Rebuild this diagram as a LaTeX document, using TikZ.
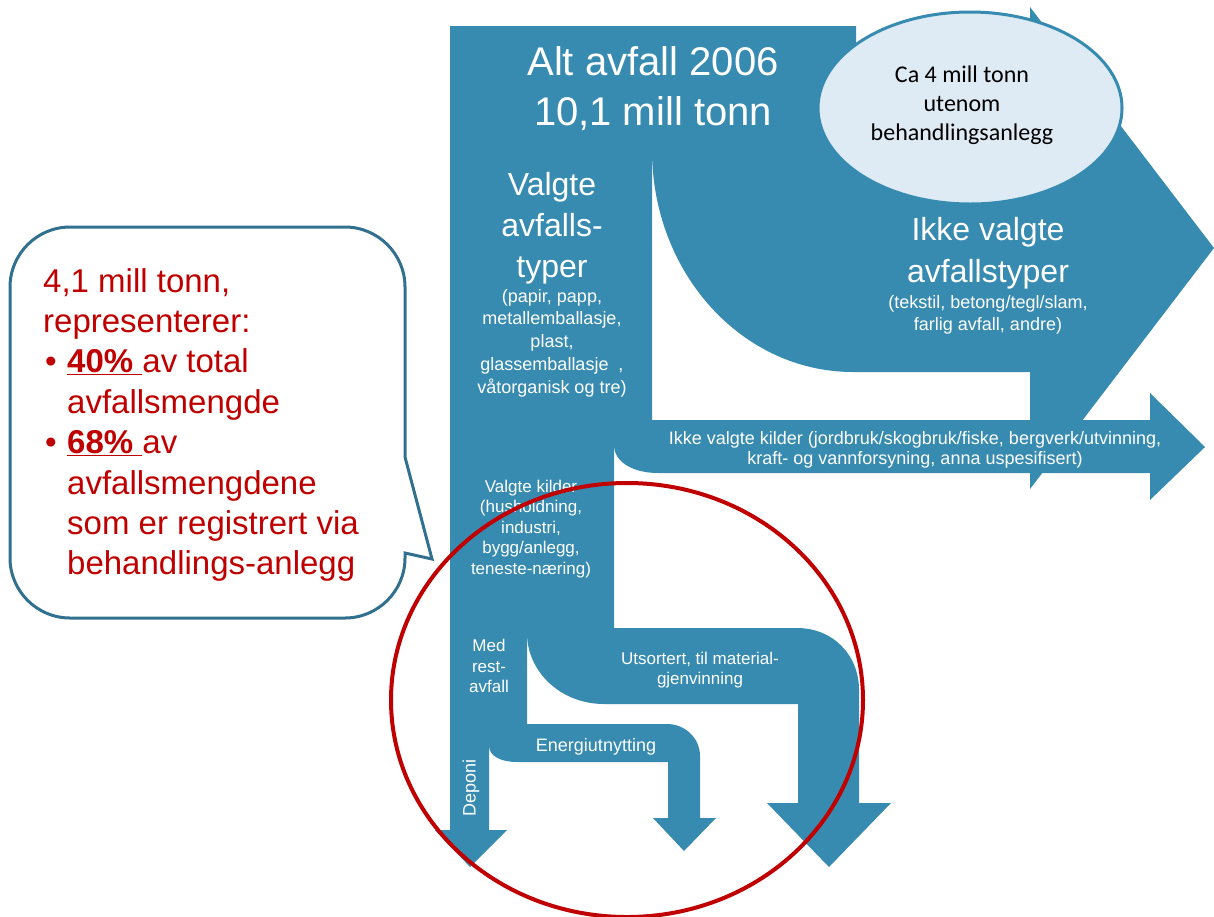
\documentclass[tikz,border=0pt]{standalone}
\usepackage{fontspec}
\setmainfont{Liberation Sans}
\newfontfamily\calibrifont{Carlito}
\usepackage{tikz}
\usetikzlibrary{positioning,shapes.geometric}
\definecolor{flowblue}{HTML}{378BB0}
\definecolor{ovalfill}{HTML}{DEEAF4}
\definecolor{bubbleline}{HTML}{31708E}
\definecolor{alertred}{HTML}{C00000}
\newcommand{\fsz}[2]{\fontsize{#1}{#2}\selectfont}

\begin{document}
\begin{tikzpicture}[x=1pt,y=-1pt,
  flow/.style={fill=flowblue},
  lbl/.style={text=white,align=center,inner sep=0pt},
  redtxt/.style={text=alertred,align=left,inner sep=0pt}]
  \useasboundingbox (0,0) rectangle (1214,916);

  \fill[flow] (652,100) -- (1030,100) -- (1030,7) -- (1214,248) -- (1030,489) -- (1030,372)
    -- (853,372) .. controls (742,372) and (652,273) .. (652,150) -- cycle;
  \fill[flow] (614,420) -- (1150,420) -- (1150,393) -- (1205,447) -- (1150,500) -- (1150,473)
    -- (658,473) .. controls (633,473) and (614,462) .. (614,445) -- cycle;
  \fill[flow] (450,26) -- (856,26) -- (856,145) -- (652,145) -- (652,420) -- (614,420)
    -- (614,628) -- (527,628) -- (527,724) -- (489,724) -- (489,830) -- (507,830)
    -- (470,867) -- (435,830) -- (450,830) -- cycle;
  \fill[flow] (527,628) -- (797,628) .. controls (833,628) and (859,655) .. (859,690)
    -- (859,803) -- (891,803) -- (829,867) -- (767,803) -- (798,803) -- (798,704)
    -- (604,704) .. controls (561,704) and (527,672) .. (527,633) -- cycle;
  \fill[flow] (489,724) -- (667,724) .. controls (685,724) and (700,738) .. (700,756)
    -- (700,818) -- (716,818) -- (684,851) -- (653,818) -- (668,818) -- (668,762)
    -- (517,762) .. controls (501,762) and (489,756) .. (489,746) -- cycle;

  \node[ellipse,draw=flowblue,line width=3pt,fill=ovalfill,
        minimum width=304pt,minimum height=192pt] (oval) at (970,108) {};
  \node[inner sep=0pt,align=center,font=\calibrifont\fsz{24}{29}] (utenom) at (962,105)
       {Ca 4 mill tonn\\utenom\\behandlingsanlegg};

  \node[lbl,font=\fsz{40}{50}] (alt) at (653,89) {Alt avfall 2006\\10,1 mill tonn};
  \node[lbl,font=\fsz{32}{41}] (valgte) at (552,228) {Valgte\\avfalls-\\typer};
  \node[lbl,font=\fsz{18}{22.75}] (valgteliste) at (552,343)
       {(papir, papp,\\metallemballasje,\\plast,\\glassemballasje~ ,\\våtorganisk og tre)};
  \node[lbl,font=\fsz{32}{42}] (ikke) at (988,253) {Ikke valgte\\avfallstyper};
  \node[lbl,font=\fsz{18}{22}] (ikkeliste) at (988,315)
       {(tekstil, betong/tegl/slam,\\farlig avfall, andre)};
  \node[lbl,font=\fsz{18}{20.5}] (ikkekilder) at (915,450)
       {Ikke valgte kilder (jordbruk/skogbruk/fiske, bergverk/utvinning,\\
        kraft- og vannforsyning, anna uspesifisert)};
  \node[lbl,font=\fsz{17}{20.5}] (kilder) at (531,529)
       {Valgte kilder\\(husholdning,\\industri,\\bygg/anlegg,\\teneste-næring)};
  \node[lbl,font=\fsz{17}{20.5}] (rest) at (489,666) {Med\\rest-\\avfall};
  \node[lbl,font=\fsz{17}{20.5}] (utsortert) at (700,670) {Utsortert, til material-\\gjenvinning};
  \node[lbl,font=\fsz{18}{22}] (energi) at (596,747) {Energiutnytting};
  \node[lbl,font=\fsz{18}{22},rotate=90] (deponi) at (471,788) {Deponi};

  \draw[bubbleline,line width=3pt,fill=white]
    (70,227) -- (345,227) .. controls (378,227) and (405,254) .. (405,287)
    -- (405,457) -- (432,559) -- (405,553) -- (405,558)
    .. controls (405,591) and (378,618) .. (345,618) -- (70,618)
    .. controls (37,618) and (10,591) .. (10,558) -- (10,287)
    .. controls (10,254) and (37,227) .. (70,227) -- cycle;
  \node[redtxt,font=\fsz{33}{40.4},anchor=north west] (andel) at (43,268)
       {4,1 mill tonn,\\
        representerer:\\
        \makebox[24pt][l]{\hspace{2pt}•}\underline{\textbf{40\%}~}av total\\
        \hspace*{24pt}avfallsmengde\\
        \makebox[24pt][l]{\hspace{2pt}•}\underline{\textbf{68\%}~}av\\
        \hspace*{24pt}avfallsmengdene\\
        \hspace*{24pt}som er registrert via\\
        \hspace*{24pt}behandlings-anlegg};

  \draw[alertred,line width=4pt] (627,700) ellipse [x radius=236pt,y radius=217pt];
\end{tikzpicture}
\end{document}
